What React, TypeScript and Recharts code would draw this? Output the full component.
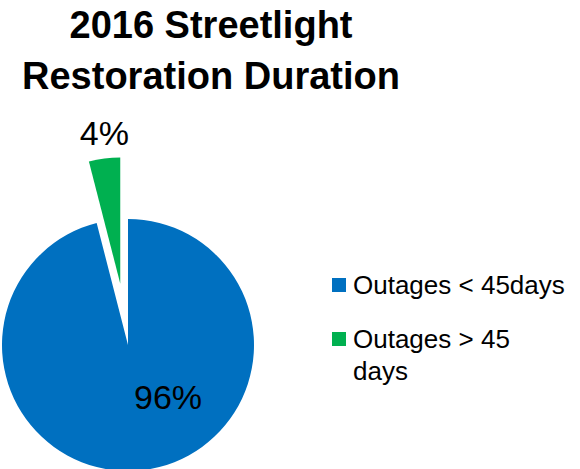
import React from "react";
import { Cell, Pie, PieChart } from "recharts";

const categories = ["Outages < 45days", "Outages > 45 days"];
const shares = [96, 4];
const colors = ["#0070C0", "#00B050"];
const titleLines = ["2016 Streetlight", "Restoration Duration"];

const data = categories.map((name, i) => ({ name, value: shares[i] }));

const FONT = "'Liberation Sans', Arial, sans-serif";
const CX = 128;
const CY = 345;
const R = 126;
const EXPLODE = 62;

// mid angle of the small slice (pie runs clockwise from 12 o'clock)
const total = shares.reduce((a, b) => a + b, 0);
const greenMid = 90 + ((shares[1] / total) * 360) / 2;
const gx = CX + EXPLODE * Math.cos((greenMid * Math.PI) / 180);
const gy = CY - EXPLODE * Math.sin((greenMid * Math.PI) / 180);

function makeLabel(show: number) {
  return (props: any) => {
    const { cx, cy, midAngle, outerRadius, percent, index } = props;
    if (index !== show) return null;
    const pct = `${Math.round(percent * 100)}%`;
    let x: number;
    let y: number;
    if (index === 0) {
      x = cx + 40;
      y = cy + 64;
    } else {
      const rad = (midAngle * Math.PI) / 180;
      x = cx + outerRadius * Math.cos(rad);
      y = cy - outerRadius * Math.sin(rad) - 13;
    }
    return (
      <text x={x} y={y} textAnchor="middle" fill="#000" fontSize={34} fontFamily={FONT}>
        {pct}
      </text>
    );
  };
}

export default function App() {
  return (
    <div style={{ position: "absolute", left: 0, top: 0, width: 580, height: 469, background: "#fff", overflow: "hidden", fontFamily: FONT }}>
      <div
        style={{
          position: "absolute",
          left: 11,
          top: 0,
          width: 400,
          textAlign: "center",
          fontWeight: "bold",
          fontSize: 38,
          lineHeight: "51px",
          color: "#000",
        }}
      >
        {titleLines.map((t) => (
          <div key={t}>{t}</div>
        ))}
      </div>

      <PieChart
        width={580}
        height={469}
        margin={{ top: 0, right: 0, bottom: 0, left: 0 }}
        style={{ position: "absolute", left: 0, top: 0 }}
      >
        <Pie
          data={data}
          dataKey="value"
          cx={CX}
          cy={CY}
          outerRadius={R}
          startAngle={90}
          endAngle={-270}
          stroke="none"
          label={makeLabel(0)}
          labelLine={false}
          isAnimationActive={false}
        >
          {data.map((d, i) => (
            <Cell key={d.name} fill={i === 0 ? colors[0] : "transparent"} />
          ))}
        </Pie>
        <Pie
          data={data}
          dataKey="value"
          cx={gx}
          cy={gy}
          outerRadius={R}
          startAngle={90}
          endAngle={-270}
          stroke="none"
          label={makeLabel(1)}
          labelLine={false}
          isAnimationActive={false}
        >
          {data.map((d, i) => (
            <Cell key={d.name} fill={i === 1 ? colors[1] : "transparent"} />
          ))}
        </Pie>
      </PieChart>

      <div style={{ position: "absolute", left: 332, top: 269 }}>
        {categories.map((c, i) => (
          <div key={c} style={{ position: "relative", height: i === 0 ? 54 : 64, fontSize: 26, lineHeight: "32px", color: "#000" }}>
            <div style={{ position: "absolute", left: 0, top: 9, width: 14, height: 14, background: colors[i] }} />
            <div style={{ marginLeft: 21, width: 215 }}>{c}</div>
          </div>
        ))}
      </div>
    </div>
  );
}
